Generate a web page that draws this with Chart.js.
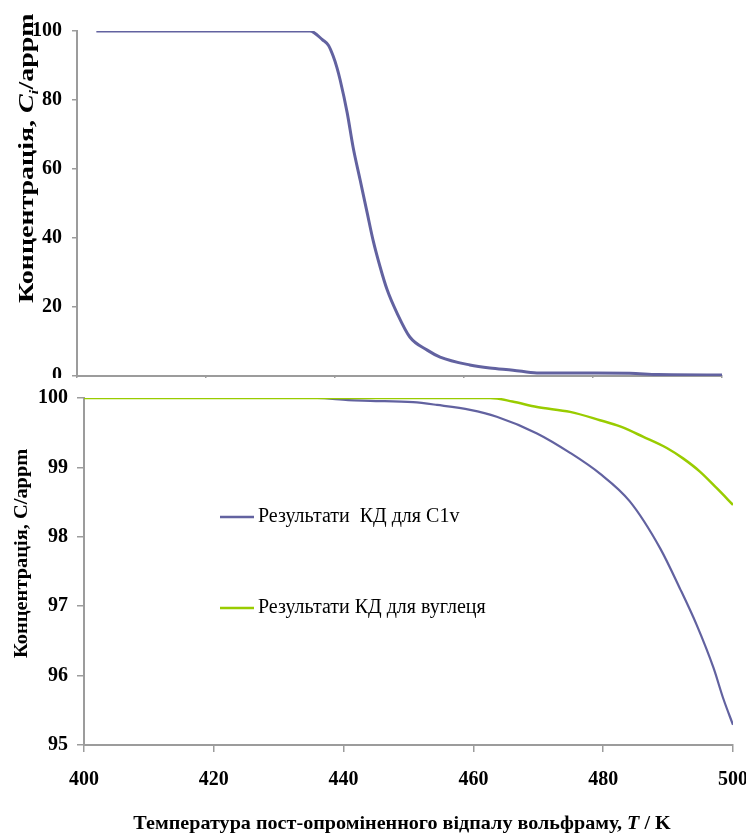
<!DOCTYPE html>
<html>
<head>
<meta charset="utf-8">
<script src="https://cdn.jsdelivr.net/npm/chart.js@4.4.0/dist/chart.umd.min.js"></script>
<style>
  html, body { margin: 0; padding: 0; background: #fff; }
  #wrap { position: relative; width: 746px; height: 834px; overflow: hidden; background: #fff; }
  #topBox { position: absolute; left: 0; top: 0; width: 746px; height: 392px; }
  #bottomBox { position: absolute; left: 0; top: 378px; width: 746px; height: 456px; background: #fff; }
  canvas { display: block; }
</style>
</head>
<body>
<div id="wrap">
  <div id="topBox"><canvas id="topChart" width="746" height="392"></canvas></div>
  <div id="bottomBox"><canvas id="bottomChart" width="746" height="456"></canvas></div>
</div>
<script>
// Upper panel: C1i concentration during post-irradiation annealing
const tempTop = [403, 410, 420, 430, 436.1, 438.1, 439.0, 439.7, 440.3, 440.8, 441.9, 442.8, 443.9, 445.0, 445.9, 447.0, 448.1, 449.6, 451.6, 454.3, 456.3, 460.9, 464.0, 467.6, 471.3, 478.0, 485.7, 490.0, 500];
const concTop = [100, 100, 100, 100, 100, 97.4, 95.8, 92.8, 89.4, 85.8, 76.2, 66.4, 56.8, 47.2, 39.4, 31.6, 24.9, 18.3, 11.3, 7.5, 5.5, 3.2, 2.3, 1.7, 0.9, 0.85, 0.8, 0.4, 0.3];

// Lower panel: kinetic (КД) results for C1v and for carbon
const tempC1v = [400, 420, 435.9, 440.7, 444.1, 450.7, 454.4, 459.5, 463.6, 469.8, 474.9, 479.5, 484.1, 488.8, 491.8, 494.4, 497.0, 498.5, 500];
const concC1v = [100, 100, 100, 99.97, 99.96, 99.94, 99.90, 99.83, 99.73, 99.49, 99.21, 98.91, 98.51, 97.83, 97.26, 96.73, 96.11, 95.67, 95.29];

const tempCarbon = [400, 420, 440, 462.6, 466.0, 469.8, 474.9, 479.5, 482.6, 486.2, 489.8, 492.3, 494.9, 497.5, 500];
const concCarbon = [100, 100, 100, 100, 99.95, 99.87, 99.80, 99.68, 99.59, 99.44, 99.28, 99.13, 98.94, 98.70, 98.46];

const xTicks = [400, 420, 440, 460, 480, 500];
const yTicksTop = [0, 20, 40, 60, 80, 100];
const yTicksBottom = [95, 96, 97, 98, 99, 100];

const labelC1v = 'Результати  КД для C1v';
const labelCarbon = 'Результати КД для вуглеця';
const titleY = 'Концентрація, C/appm';
const titleYTopMain = 'Концентрація, ';
const titleYTopSym = 'C';
const titleYTopSub = 'i';
const titleYTopUnit = '/appm';
const titleXMain = 'Температура пост-опроміненного відпалу вольфраму, ';
const titleXSym = 'T';
const titleXUnit = ' / K';

const BLUE = '#6262a0';
const GREEN = '#99cc00';
const AXIS = '#9c9c9c';
const SERIF = '"Liberation Serif", "Times New Roman", serif';

const pts = (xs, ys) => xs.map((x, i) => ({ x, y: ys[i] }));
const fixedTicks = vals => scale => { scale.ticks = vals.map(v => ({ value: v })); };

function axisBase(extra) {
  return Object.assign({
    border: { display: true, color: AXIS, width: 2 },
    grid: { display: true, drawOnChartArea: false, drawTicks: true, color: AXIS, lineWidth: 1.5 }
  }, extra);
}

// Draw text with mixed font runs starting at current origin
function drawRuns(ctx, runs) {
  let x = 0;
  for (const r of runs) {
    ctx.font = r.font;
    ctx.fillText(r.text, x, r.dy || 0);
    x += ctx.measureText(r.text).width;
  }
}
function runsWidth(ctx, runs) {
  let w = 0;
  for (const r of runs) { ctx.font = r.font; w += ctx.measureText(r.text).width; }
  return w;
}

const topTitlePlugin = {
  id: 'topTitle',
  afterDraw(chart) {
    const ctx = chart.ctx;
    ctx.save();
    ctx.fillStyle = '#000';
    ctx.textBaseline = 'alphabetic';
    ctx.textAlign = 'left';
    ctx.translate(33, 303);
    ctx.rotate(-Math.PI / 2);
    ctx.scale(1.33, 1);
    const s = 21;
    drawRuns(ctx, [
      { text: titleYTopMain, font: `bold ${s}px ${SERIF}` },
      { text: titleYTopSym, font: `italic bold ${s}px ${SERIF}` },
      { text: titleYTopSub, font: `italic bold ${Math.round(s * 0.62)}px ${SERIF}`, dy: s * 0.22 },
      { text: titleYTopUnit, font: `bold ${s}px ${SERIF}` }
    ]);
    ctx.restore();
  }
};

const bottomDecorPlugin = {
  id: 'bottomDecor',
  afterDraw(chart) {
    const ctx = chart.ctx;
    ctx.save();
    ctx.fillStyle = '#000';
    ctx.textAlign = 'left';
    ctx.textBaseline = 'alphabetic';
    // y-axis title
    ctx.save();
    ctx.translate(27, 280);
    ctx.rotate(-Math.PI / 2);
    ctx.scale(1.135, 1);
    drawRuns(ctx, [{ text: titleY, font: `bold 18px ${SERIF}` }]);
    ctx.restore();
    // x-axis title
    ctx.save();
    const runs = [
      { text: titleXMain, font: `bold 19px ${SERIF}` },
      { text: titleXSym, font: `italic bold 19px ${SERIF}` },
      { text: titleXUnit, font: `bold 19px ${SERIF}` }
    ];
    const sx = 1.06;
    const w = runsWidth(ctx, runs) * sx;
    ctx.translate(402 - w / 2, 451);
    ctx.scale(sx, 1);
    drawRuns(ctx, runs);
    ctx.restore();
    // legend inside the plot
    const rows = [139, 230];
    chart.data.datasets.forEach((ds, i) => {
      const y = rows[i];
      ctx.strokeStyle = ds.borderColor;
      ctx.lineWidth = 2.5;
      ctx.beginPath();
      ctx.moveTo(220, y);
      ctx.lineTo(254, y);
      ctx.stroke();
      ctx.font = `20px ${SERIF}`;
      ctx.textBaseline = 'middle';
      ctx.fillText(ds.label, 258, y);
    });
    ctx.restore();
  }
};

new Chart(document.getElementById('topChart'), {
  type: 'line',
  data: {
    datasets: [{
      label: 'C1i',
      data: pts(tempTop, concTop),
      borderColor: BLUE,
      borderWidth: 3,
      pointRadius: 0,
      cubicInterpolationMode: 'monotone',
      fill: false
    }]
  },
  options: {
    responsive: false,
    animation: false,
    events: [],
    layout: { padding: { left: 0, right: 24, top: 31, bottom: 0 } },
    plugins: { legend: { display: false }, tooltip: { enabled: false } },
    scales: {
      x: axisBase({
        type: 'linear', min: 400, max: 500,
        afterBuildTicks: fixedTicks(xTicks),
        ticks: { display: false },
        grid: { display: true, drawOnChartArea: false, drawTicks: true, color: AXIS, lineWidth: 1.5, tickLength: 4 },
        afterFit: s => { s.height = 16; s.paddingLeft = 0; s.paddingRight = 0; }
      }),
      y: axisBase({
        type: 'linear', min: 0, max: 100,
        afterBuildTicks: fixedTicks(yTicksTop),
        grid: { display: true, drawOnChartArea: false, drawTicks: true, color: AXIS, lineWidth: 1.5, tickLength: 5 },
        ticks: { color: '#000', padding: 10, font: { family: SERIF, size: 20, weight: 'bold' } },
        afterFit: s => { s.width = 77; s.paddingTop = 0; s.paddingBottom = 0; }
      })
    }
  },
  plugins: [topTitlePlugin]
});

new Chart(document.getElementById('bottomChart'), {
  type: 'line',
  data: {
    datasets: [{
      label: labelC1v,
      data: pts(tempC1v, concC1v),
      borderColor: BLUE,
      borderWidth: 2.2,
      pointRadius: 0,
      cubicInterpolationMode: 'monotone',
      fill: false,
      order: 1
    }, {
      label: labelCarbon,
      data: pts(tempCarbon, concCarbon),
      borderColor: GREEN,
      borderWidth: 2.5,
      pointRadius: 0,
      cubicInterpolationMode: 'monotone',
      fill: false,
      order: 0
    }]
  },
  options: {
    responsive: false,
    animation: false,
    events: [],
    layout: { padding: { left: 0, right: 13, top: 20, bottom: 0 } },
    plugins: { legend: { display: false }, tooltip: { enabled: false } },
    scales: {
      x: axisBase({
        type: 'linear', min: 400, max: 500,
        afterBuildTicks: fixedTicks(xTicks),
        grid: { display: true, drawOnChartArea: false, drawTicks: true, color: AXIS, lineWidth: 1.5, tickLength: 7 },
        ticks: { color: '#000', padding: 16, maxRotation: 0, font: { family: SERIF, size: 20, weight: 'bold' } },
        afterFit: s => { s.height = 89; s.paddingLeft = 0; s.paddingRight = 0; }
      }),
      y: axisBase({
        type: 'linear', min: 95, max: 100,
        afterBuildTicks: fixedTicks(yTicksBottom),
        grid: { display: true, drawOnChartArea: false, drawTicks: true, color: AXIS, lineWidth: 1.5, tickLength: 7 },
        ticks: { color: '#000', padding: 9, font: { family: SERIF, size: 20, weight: 'bold' } },
        afterFit: s => { s.width = 84; s.paddingTop = 0; s.paddingBottom = 0; }
      })
    }
  },
  plugins: [bottomDecorPlugin]
});
</script>
</body>
</html>
